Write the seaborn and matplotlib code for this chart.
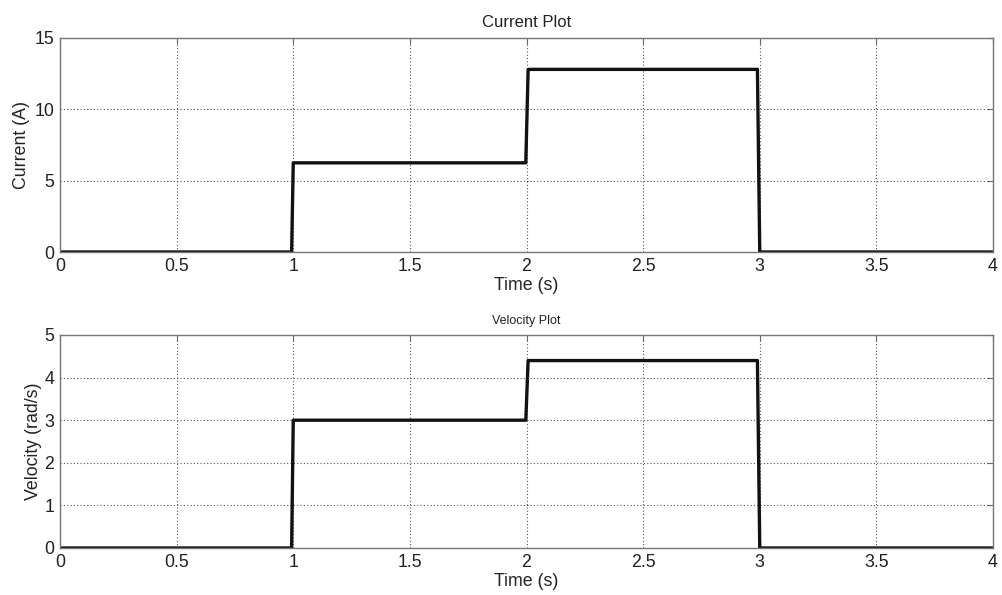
import matplotlib
matplotlib.use("Agg")
import matplotlib.pyplot as plt
import seaborn as sns
import pandas as pd

# time samples (s) at the edges of each step
time = [0.0, 0.993, 1.0, 1.997, 2.007, 2.99, 3.0, 4.0]
current = [0.0, 0.0, 6.25, 6.25, 12.8, 12.8, 0.0, 0.0]
velocity = [0.0, 0.0, 3.0, 3.0, 4.4, 4.4, 0.0, 0.0]

x_ticks = [0, 0.5, 1, 1.5, 2, 2.5, 3, 3.5, 4]
x_tick_labels = ["0", "0.5", "1", "1.5", "2", "2.5", "3", "3.5", "4"]
current_ticks = [0, 5, 10, 15]
velocity_ticks = [0, 1, 2, 3, 4, 5]

df = pd.DataFrame({"t": time, "current": current, "velocity": velocity})

sns.set_theme(style="white")
plt.rcParams["font.family"] = ["Liberation Sans", "DejaVu Sans"]

fig = plt.figure(figsize=(10.02, 5.95), dpi=100)
W, H = 1002, 595
ax1 = fig.add_axes([60 / W, 1 - 252 / H, 933 / W, 214 / H])
ax2 = fig.add_axes([60 / W, 1 - 548 / H, 933 / W, 213 / H])


def style(ax, yticks, ylabel, title, title_size, ypad):
    ax.set_xlim(0, 4)
    ax.set_ylim(yticks[0], yticks[-1])
    ax.set_xticks(x_ticks)
    ax.set_xticklabels(x_tick_labels)
    ax.set_yticks(yticks)
    ax.grid(True, linestyle=(0, (1, 2)), color="#555555", linewidth=0.8)
    ax.tick_params(direction="in", length=4, width=0.8, color="#666666",
                   labelsize=12.8, pad=4, top=True, right=True,
                   labelcolor="#222222")
    for s in ax.spines.values():
        s.set_color("#777777")
        s.set_linewidth(1.0)
    ax.set_xlabel("Time (s)", fontsize=12.8, color="#222222", labelpad=2)
    ax.set_ylabel(ylabel, fontsize=12.8, color="#222222", labelpad=ypad)
    ax.set_title(title, fontsize=title_size, color="#222222", pad=8)


sns.lineplot(data=df, x="t", y="current", ax=ax1, color="#111111",
             linewidth=2.4, sort=False, estimator=None)
sns.lineplot(data=df, x="t", y="velocity", ax=ax2, color="#111111",
             linewidth=2.4, sort=False, estimator=None)

style(ax1, current_ticks, "Current (A)", "Current Plot", 12, 3)
style(ax2, velocity_ticks, "Velocity (rad/s)", "Velocity Plot", 9, 2)

fig.savefig("out.png", dpi=100)
